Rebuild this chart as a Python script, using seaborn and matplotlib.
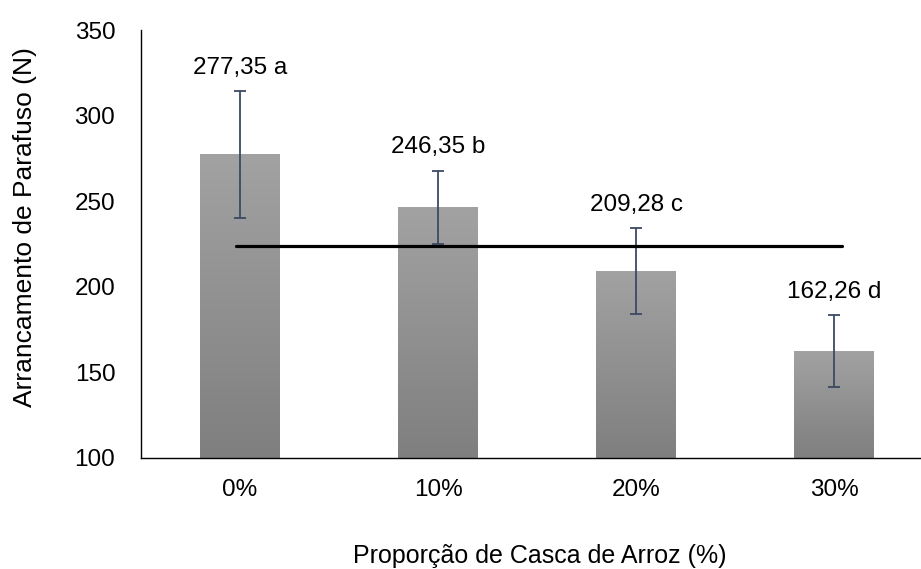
import matplotlib
matplotlib.use("Agg")
import matplotlib.pyplot as plt
import numpy as np
import pandas as pd
import seaborn as sns

# dados
proporcao = ["0%", "10%", "20%", "30%"]
arrancamento = [277.35, 246.35, 209.28, 162.26]
desvio = [37.0, 21.5, 25.0, 21.0]
letras = ["a", "b", "c", "d"]
media_geral = 224.0

df = pd.DataFrame({"proporcao": proporcao, "arrancamento": arrancamento})

sns.set_theme(style="white")
plt.rcParams["font.family"] = ["Liberation Sans", "DejaVu Sans"]

fig = plt.figure(figsize=(9.21, 5.69), dpi=100)
ax = fig.add_axes([141 / 921, 111 / 569, 792 / 921, 428 / 569])

sns.barplot(data=df, x="proporcao", y="arrancamento", color="#9a9a9a",
            width=0.4, saturation=1, ax=ax)

# gradiente vertical nas barras (mais claro em cima)
cmap = matplotlib.colors.LinearSegmentedColormap.from_list("g", ["#a2a2a2", "#7f7f7f"])
grad = np.linspace(0, 1, 256).reshape(-1, 1)
for p in ax.patches:
    x0, w, h = p.get_x(), p.get_width(), p.get_height()
    im = ax.imshow(grad, extent=(x0, x0 + w, 100, h), origin="upper", cmap=cmap,
                   aspect="auto", zorder=p.get_zorder() + 0.1)
    im.set_clip_path(p)

ax.errorbar(range(len(proporcao)), arrancamento, yerr=desvio, fmt="none",
            ecolor="#3b4a63", elinewidth=1.3, capsize=4.5, capthick=1.3, zorder=5)

ax.plot([-0.02, 3.04], [media_geral, media_geral], color="black", lw=2.3, zorder=6)

for i, (v, d, l) in enumerate(zip(arrancamento, desvio, letras)):
    ax.annotate(f"{v:.2f}".replace(".", ",") + " " + l, (i, v + d),
                xytext=(0, 12.5), textcoords="offset points",
                ha="center", va="baseline", fontsize=17.5, color="black")

ax.set_xlim(-0.5, 3.5)
ax.set_ylim(100, 350)
ax.set_yticks([100, 150, 200, 250, 300, 350])
ax.tick_params(axis="both", length=0, labelsize=17.5, colors="black")
ax.tick_params(axis="x", pad=15)
ax.tick_params(axis="y", pad=18.5)

for s in ["top", "right"]:
    ax.spines[s].set_visible(False)
for s in ["left", "bottom"]:
    ax.spines[s].set_color("black")
    ax.spines[s].set_linewidth(1.0)

ax.set_xlabel("Proporção de Casca de Arroz (%)", fontsize=18, color="black")
ax.set_ylabel("Arrancamento de Parafuso (N)", fontsize=19, color="black")
ax.xaxis.set_label_coords(0.504, -0.201)
ax.yaxis.set_label_coords(-0.131, 0.54)

fig.savefig("out.png", dpi=100)
